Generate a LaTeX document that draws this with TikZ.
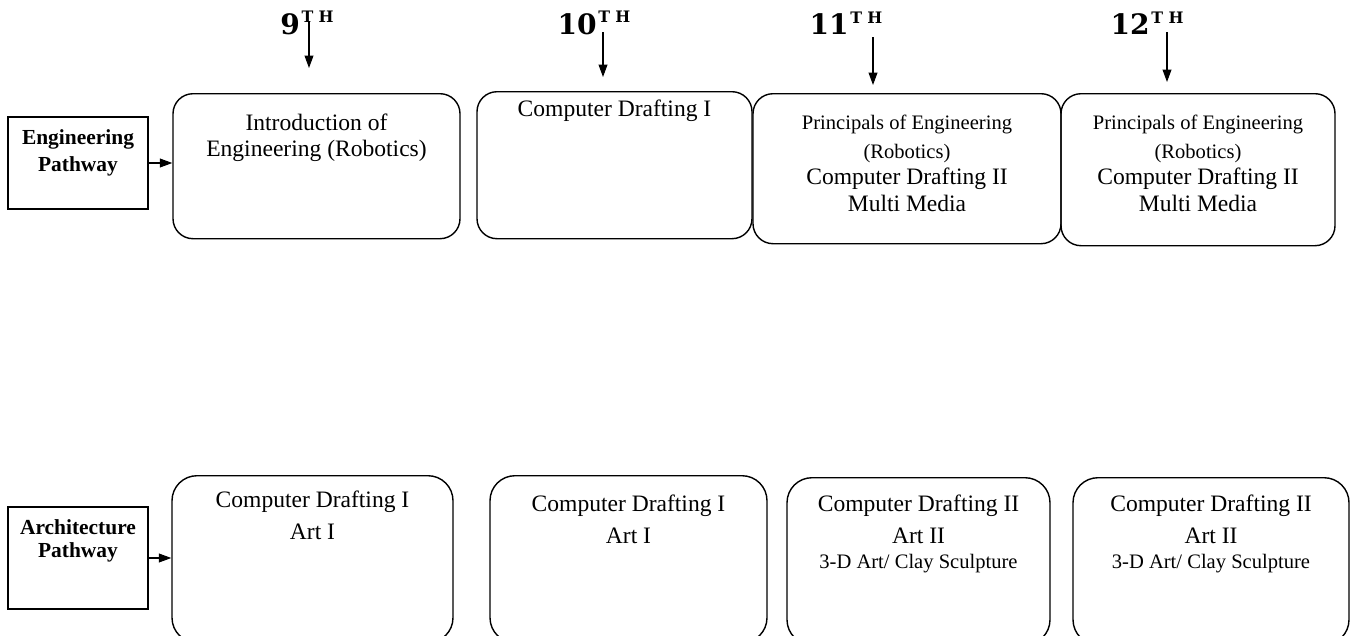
\documentclass[tikz,border=0pt]{standalone}
\usepackage{fontspec}
\setmainfont{Liberation Serif}
\newfontfamily\gradefont{DejaVu Serif}
\usepackage{tikz}
\usetikzlibrary{positioning,arrows.meta}

\tikzset{
	course/.style={draw=black,line width=0.8pt,rounded corners=0.4cm,anchor=north},
	lowcourse/.style={course,rounded corners=0.5cm,minimum height=3.34cm},
	pathbox/.style={draw=black,line width=0.8pt,minimum width=2.8cm},
	ctext/.style={align=center,inner sep=0pt,anchor=north,font=\fontsize{13.4}{14.7}\selectfont},
	ptext/.style={align=center,inner sep=0pt,font=\bfseries\fontsize{12.2}{15}\selectfont},
	grade/.style={inner sep=0pt,font=\gradefont\bfseries\fontsize{16}{16}\selectfont},
	down/.style={-{Triangle[width=5pt,length=7pt]},line width=0.6pt},
}
\newcommand{\gradesup}{\raisebox{0.4em}{\fontsize{9}{9}\selectfont\kern1pt T\kern3pt H}}
\newcommand{\smallline}[1]{{\fontsize{11.7}{14}\selectfont #1}}

\begin{document}
\begin{tikzpicture}
		\useasboundingbox (0,0) rectangle (27.02,-12.7);
		\clip (0,0) rectangle (27.02,-12.7);
		
		% grade headings
		\node[grade] (g9) at (6.14,-0.46) {9\gradesup};
		\node[grade] (g10) at (11.88,-0.46) {10\gradesup};
		\node[grade] (g11) at (16.92,-0.46) {11\gradesup};
		\node[grade] (g12) at (22.94,-0.46) {12\gradesup};
		\coordinate (g9s) at (6.18,-0.42);
		\coordinate (g9e) at (6.18,-1.36);
		\coordinate (g10s) at (12.06,-0.64);
		\coordinate (g10e) at (12.06,-1.54);
		\coordinate (g11s) at (17.46,-0.74);
		\coordinate (g11e) at (17.46,-1.70);
		\coordinate (g12s) at (23.34,-0.64);
		\coordinate (g12e) at (23.34,-1.64);
		\draw[down] (g9s)--(g9e);
		\draw[down] (g10s)--(g10e);
		\draw[down] (g11s)--(g11e);
		\draw[down] (g12s)--(g12e);
		
		% engineering row
		\node[pathbox,minimum height=1.84cm] (ep) at (1.56,-3.26) {};
		\node[ptext] (eptext) at (1.56,-3.06) {Engineering\\Pathway};
		\node[course,minimum width=5.74cm,minimum height=2.9cm] (e1) at (6.33,-1.86) {};
		\node[course,minimum width=5.5cm,minimum height=2.94cm] (e2) at (12.29,-1.82) {};
		\node[course,minimum width=6.16cm,minimum height=3cm] (e3) at (18.14,-1.86) {};
		\node[course,minimum width=5.48cm,minimum height=3.04cm] (e4) at (23.96,-1.86) {};
		\node[ctext,below=0.42cm of e1.north] (e1text) {Introduction of\\Engineering (Robotics)};
		\node[ctext,below=0.18cm of e2.north] (e2text) {Computer Drafting I};
		\node[ctext,below=0.44cm of e3.north] (e3text) {\smallline{Principals of Engineering}\\[1.5pt]\smallline{(Robotics)}\\Computer Drafting II\\[1pt]Multi Media};
		\node[ctext,below=0.44cm of e4.north] (e4text) {\smallline{Principals of Engineering}\\[1.5pt]\smallline{(Robotics)}\\Computer Drafting II\\[1pt]Multi Media};
		\draw[-{Triangle[width=5pt,length=7pt]},line width=0.6pt] (ep.east)--(ep.east -| e1.west);
		
		% architecture row
		\node[pathbox,minimum height=2.04cm] (ap) at (1.56,-11.16) {};
		\node[ptext,font=\bfseries\fontsize{12.2}{13}\selectfont] (aptext) at (1.56,-10.82) {Architecture\\Pathway};
		\node[lowcourse,minimum width=5.62cm] (a1) at (6.25,-9.5) {};
		\node[lowcourse,minimum width=5.54cm] (a2) at (12.57,-9.5) {};
		\node[lowcourse,minimum width=5.26cm] (a3) at (18.37,-9.54) {};
		\node[lowcourse,minimum width=5.52cm] (a4) at (24.22,-9.54) {};
		\node[ctext,below=0.32cm of a1.north] (a1text) {Computer Drafting I\\[3pt]Art I};
		\node[ctext,below=0.4cm of a2.north] (a2text) {Computer Drafting I\\[3pt]Art I};
		\node[ctext,below=0.36cm of a3.north] (a3text) {Computer Drafting II\\[3pt]Art II\\\smallline{3-D Art/ Clay Sculpture}};
		\node[ctext,below=0.36cm of a4.north] (a4text) {Computer Drafting II\\[3pt]Art II\\\smallline{3-D Art/ Clay Sculpture}};
		\draw[-{Triangle[width=5pt,length=7pt]},line width=0.6pt] (ap.east)--(ap.east -| a1.west);
	\end{tikzpicture}
\end{document}
